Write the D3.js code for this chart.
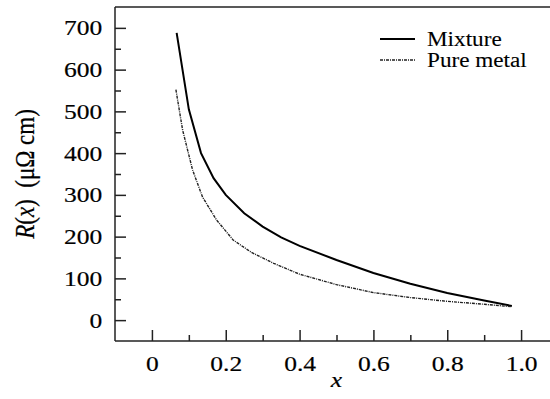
<!DOCTYPE html>
<html>
<head>
<meta charset="utf-8">
<script src="https://cdn.jsdelivr.net/npm/d3@7"></script>
</head>
<body style="margin:0; background:#fff">
<svg id="chart" width="550" height="399" style="display:block"></svg>
<script>
// data
var mixX = [0.067, 0.1, 0.133, 0.167, 0.2, 0.25, 0.3, 0.35, 0.4, 0.5, 0.6, 0.7, 0.8, 0.9, 0.975];
var mixR = [688, 505, 400, 340, 300, 256, 224, 198, 178, 144, 113, 87, 65, 47, 34];
var pureX = [0.065, 0.083, 0.11, 0.137, 0.175, 0.22, 0.27, 0.33, 0.4, 0.5, 0.6, 0.7, 0.8, 0.9, 0.975];
var pureR = [552, 456, 360, 295, 240, 192, 162, 136, 110, 85, 66, 54, 45, 38, 32];
var xMajor = [0, 0.2, 0.4, 0.6, 0.8, 1.0];
var xMinor = [0.1, 0.3, 0.5, 0.7, 0.9];
var yMajor = [0, 100, 200, 300, 400, 500, 600, 700];
var yMinor = [50, 150, 250, 350, 450, 550, 650];
var seriesNames = ["Mixture", "Pure metal"];

var FONT = "'Liberation Serif', 'Times New Roman', serif";
var stretch = "scale(1.16,1)"; // glyphs in the reference are wider than tall

function textStyle(sel, size) {
  sel.style("font-family", FONT)
    .style("font-size", size + "px")
    .attr("fill", "#000")
    .attr("stroke", "#000")
    .attr("stroke-width", 0.2);
}

var dimensions = {
  width: 550,
  height: 399,
  margin: { top: 7, right: -8, bottom: 58, left: 115 },
};
dimensions.boundedWidth = dimensions.width - dimensions.margin.left - dimensions.margin.right;
dimensions.boundedHeight = dimensions.height - dimensions.margin.top - dimensions.margin.bottom;

var svg = d3.select("#chart");

var xScale = d3.scaleLinear().domain([-0.1, 1.1]).range([0, dimensions.boundedWidth]);
var yScale = d3.scaleLinear().domain([-50, 750]).range([dimensions.boundedHeight, 0]);

var bounds = svg.append("g")
  .attr("transform", "translate(" + dimensions.margin.left + "," + dimensions.margin.top + ")");

// frame top line
bounds.append("line")
  .attr("x1", 0).attr("x2", dimensions.boundedWidth)
  .attr("y1", 0).attr("y2", 0)
  .attr("stroke", "#222").attr("stroke-width", 1.5);

// y axis, ticks inside
var yAxis = d3.axisLeft(yScale).tickValues(yMajor).tickSize(-11).tickPadding(11).tickSizeOuter(0);
var yG = bounds.append("g").call(yAxis);
yG.selectAll("text").call(textStyle, 22).attr("transform", stretch);
yG.selectAll("line").attr("stroke", "#222").attr("stroke-width", 1.5);
bounds.append("g")
  .call(d3.axisLeft(yScale).tickValues(yMinor).tickSize(-6).tickFormat("").tickSizeOuter(0))
  .call(function (g) { g.select(".domain").remove(); })
  .selectAll("line").attr("stroke", "#222").attr("stroke-width", 1.5);
yG.select(".domain").attr("stroke", "#222").attr("stroke-width", 1.5)
  .attr("d", "M0," + dimensions.boundedHeight + "V0");

// x axis, ticks inside
var xAxis = d3.axisBottom(xScale).tickValues(xMajor).tickSize(-11).tickPadding(14)
  .tickFormat(function (d) { return d === 0 ? "0" : d3.format(".1f")(d); }).tickSizeOuter(0);
var xG = bounds.append("g")
  .attr("transform", "translate(0," + dimensions.boundedHeight + ")")
  .call(xAxis);
xG.selectAll("text").call(textStyle, 22).attr("transform", stretch);
xG.selectAll("line").attr("stroke", "#222").attr("stroke-width", 1.5);
xG.select(".domain").attr("stroke", "#222").attr("stroke-width", 1.5)
  .attr("d", "M0,0H" + dimensions.boundedWidth);
bounds.append("g")
  .attr("transform", "translate(0," + dimensions.boundedHeight + ")")
  .call(d3.axisBottom(xScale).tickValues(xMinor).tickSize(-6).tickFormat("").tickSizeOuter(0))
  .call(function (g) { g.select(".domain").remove(); })
  .selectAll("line").attr("stroke", "#222").attr("stroke-width", 1.5);

// curves
var line = d3.line()
  .x(function (d) { return xScale(d[0]); })
  .y(function (d) { return yScale(d[1]); });

bounds.append("path")
  .datum(d3.zip(mixX, mixR))
  .attr("d", line)
  .attr("fill", "none")
  .attr("stroke", "#000")
  .attr("stroke-width", 2);

bounds.append("path")
  .datum(d3.zip(pureX, pureR))
  .attr("d", line)
  .attr("fill", "none")
  .attr("stroke", "#222")
  .attr("stroke-width", 1.4)
  .attr("stroke-dasharray", "3,1,1,1");

// legend
var legend = svg.append("g").attr("transform", "translate(380,39)");
var styles = [
  { width: 2, dash: null, color: "#000" },
  { width: 1.4, dash: "3,1,1,1", color: "#222" },
];
seriesNames.forEach(function (name, i) {
  var row = legend.append("g").attr("transform", "translate(0," + i * 21 + ")");
  row.append("line")
    .attr("x1", 0).attr("x2", 35).attr("y1", 0).attr("y2", 0)
    .attr("stroke", styles[i].color)
    .attr("stroke-width", styles[i].width)
    .attr("stroke-dasharray", styles[i].dash);
  row.append("g").attr("transform", "translate(47,7) " + stretch)
    .append("text")
    .call(textStyle, 20)
    .attr("stroke-width", 0.1)
    .text(name);
});

// axis labels
svg.append("g")
  .attr("transform", "translate(" + (dimensions.margin.left + dimensions.boundedWidth / 2) + ",387) " + stretch)
  .append("text")
  .attr("text-anchor", "middle")
  .call(textStyle, 22)
  .style("font-style", "italic")
  .text("x");

var yLabel = svg.append("text")
  .attr("transform", "translate(34,174) rotate(-90) scale(1,1.16)")
  .attr("text-anchor", "middle")
  .call(textStyle, 23);
yLabel.append("tspan").style("font-style", "italic").text("R");
yLabel.append("tspan").text("(");
yLabel.append("tspan").style("font-style", "italic").text("x");
yLabel.append("tspan").text(")\u00a0\u00a0(\u03bc\u03a9 cm)");
</script>
</body>
</html>
